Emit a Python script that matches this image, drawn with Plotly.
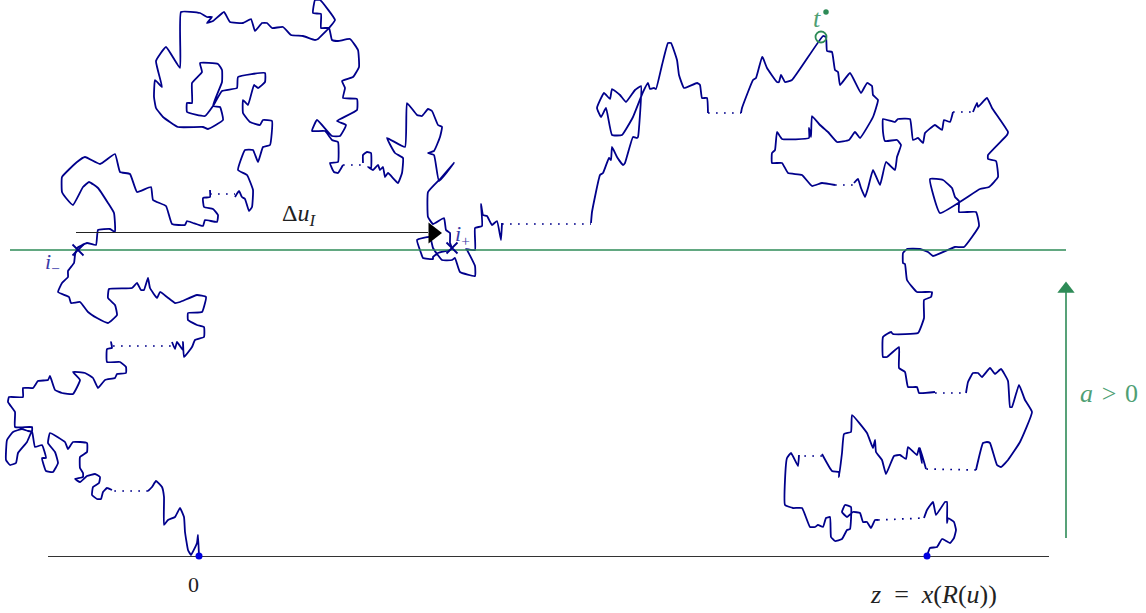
import plotly.graph_objects as go

# Solid stretches of the curve, in order (x, y)
stretch_1 = [(199,556),(198,535),(197,543),(191,555),(188,550),(185,532),(184,517),(180,508),(175,517),(168,520),(164,525),(164,497),(162,487),(156,481),(152,487),(148,491)]
stretch_2 = [(112,490),(107,488),(103,492),(101,499),(97,499),(92,495),(93,487),(99,483),(100,477),(95,474),(87,476),(80,482),(75,479),(83,477),(83,473),(80,468),(80,457),(87,452),(87,443),(73,442),(68,449),(65,442),(50,433),(48,443),(55,452),(58,463),(53,472),(46,471),(42,458),(46,458),(42,445),(35,447),(32,431),(27,442),(18,453),(16,463),(10,465),(6,460),(7,440),(13,432),(22,429),(28,431),(32,431),(32,427),(15,427),(15,412),(8,402),(9,397),(23,397),(23,388),(33,388),(38,381),(48,380),(50,376),(55,390),(62,393),(73,394),(80,380),(73,372),(85,373),(93,378),(98,388),(105,380),(115,378),(117,374),(126,373),(126,367),(120,362),(107,362),(107,349),(112,348),(111,342),(112,346)]
stretch_3 = [(172,342),(175,349),(177,342),(183,350),(183,342),(184,357),(192,347),(195,340),(204,337),(204,327),(197,325),(188,320),(188,313),(202,312),(206,297),(197,295),(180,302),(175,303),(167,297),(160,292),(157,298),(150,288),(148,278),(144,290),(141,290),(137,283),(132,288),(109,289),(108,298),(115,305),(117,315),(108,323),(97,318),(88,312),(80,302),(71,303),(69,297),(58,292),(62,283),(68,277),(68,271),(74,263),(75,255),(77,248),(87,243),(96,245),(98,230),(110,229),(115,232),(114,213),(108,203),(98,188),(89,182),(83,187),(73,205),(66,198),(62,192),(62,177),(77,162),(85,157),(100,164),(115,154),(120,172),(130,174),(137,192),(151,187),(153,200),(166,206),(172,224),(185,225),(187,221),(193,223),(203,226),(205,220),(217,222),(218,215),(213,209),(204,207),(203,198),(210,197),(210,190)]
stretch_4 = [(235,197),(239,191),(242,197),(245,199),(249,211),(252,207),(253,190),(247,175),(238,170),(245,150),(253,150),(258,162),(263,147),(270,145),(272,121),(263,120),(260,125),(250,122),(243,113),(243,100),(248,105),(254,85),(258,88),(265,82),(265,73),(238,77),(237,88),(222,91),(213,106),(205,116),(187,112),(187,103),(192,103),(192,83),(202,72),(200,63),(218,64),(222,70),(222,82),(213,106),(220,107),(223,120),(208,129),(203,127),(178,127),(163,117),(156,108),(154,97),(155,80),(162,87),(156,61),(166,47),(180,68),(181,12),(200,13),(207,17),(212,17),(207,23),(213,21),(224,12),(230,22),(243,23),(251,19),(255,31),(262,23),(267,23),(272,28),(283,27),(291,35),(303,36),(315,40),(318,39),(329,28),(335,20),(320,0),(315,0),(313,13),(321,14),(321,28),(329,28),(332,40),(338,41),(350,39),(358,50),(359,67),(353,77),(342,81),(345,88),(343,98),(357,99),(357,110),(337,121),(346,125),(340,136),(332,136),(317,120),(312,131),(325,131),(332,140),(338,142),(338,162),(330,163),(334,172),(338,173),(343,165)]
stretch_5 = [(363,163),(363,155),(367,152),(371,153),(371,168),(368,167),(373,170),(378,165),(380,170),(383,167),(385,177),(388,173),(398,183),(402,173),(403,158),(395,153),(387,138),(405,147),(407,103),(417,115),(422,116),(428,109),(432,111),(438,125),(442,127),(440,137),(434,151),(428,153),(434,155),(439,181),(454,163),(441,178),(428,192),(428,217),(433,224),(444,218),(446,230),(450,233),(450,243),(452,248),(450,250),(438,253),(433,257),(433,259),(423,258),(421,253),(417,240),(430,237),(433,248),(442,260),(452,260),(455,258),(460,272),(475,276),(475,266),(467,250),(466,249),(475,250),(475,228),(482,226),(481,204),(483,215),(487,216),(492,225),(497,221),(501,240),(502,223)]
stretch_6 = [(591,223),(592,212),(600,175),(603,173),(609,158),(611,160),(612,147),(617,157),(623,165),(625,163),(633,137),(637,138),(638,137),(641,86),(635,90),(626,102),(620,95),(612,89),(610,99),(604,93),(597,108),(601,117),(606,108),(612,135),(622,135),(633,117),(643,92),(648,83),(650,89),(654,88),(656,89),(662,65),(668,43),(671,43),(677,60),(679,75),(684,88),(697,83),(700,85),(702,98),(707,98),(708,113)]
stretch_7 = [(741,113),(742,108),(753,80),(756,78),(762,57),(763,58),(767,68),(777,82),(779,82),(781,75),(785,82),(792,80),(823,36),(826,37),(827,51),(832,52),(835,70),(838,72),(840,85),(850,73),(861,93),(867,83),(872,86),(873,95),(878,100),(873,117),(860,138),(855,132),(849,140),(837,142),(828,132),(820,125),(812,116),(811,137),(809,128),(809,138),(782,139),(777,132),(775,150),(772,153),(772,163),(782,163),(788,173),(802,175),(812,186),(822,183),(835,185)]
stretch_8 = [(854,183),(858,179),(861,188),(865,197),(868,188),(873,170),(880,185),(886,162),(895,170),(897,157),(901,145),(897,140),(885,141),(883,132),(883,119),(895,122),(898,119),(910,119),(913,140),(918,138),(923,143),(925,133),(935,125),(942,130),(944,120),(950,122),(953,112)]
stretch_9 = [(973,112),(977,103),(978,107),(987,98),(992,108),(1008,132),(1007,135),(988,155),(988,159),(996,161),(998,177),(989,187),(980,189),(940,213),(930,179),(943,180),(952,188),(955,197),(959,201),(959,212),(976,212),(979,226),(964,247),(955,247),(933,256),(928,252),(920,249),(907,249),(903,253),(903,263),(905,264),(907,280),(917,292),(932,292),(931,297),(924,300),(924,318),(918,333),(893,334),(891,332),(883,337),(883,357),(887,357),(899,347),(899,368),(905,372),(908,387),(917,387),(919,393),(935,392)]
stretch_10 = [(966,393),(968,382),(973,373),(978,373),(982,377),(990,368),(995,374),(1001,369),(1008,381),(1010,407),(1012,407),(1019,385),(1025,400),(1032,412),(1020,442),(1008,460),(1001,467),(997,465),(990,443),(987,442),(983,443),(976,470)]
stretch_11 = [(926,469),(920,448),(922,463),(919,448),(917,455),(908,447),(906,459),(900,455),(894,456),(886,474),(882,460),(876,452),(875,440),(873,448),(867,433),(852,415),(851,432),(844,434),(842,453),(839,477),(839,472),(832,471),(822,454)]
stretch_12 = [(799,455),(798,466),(791,453),(787,458),(785,480),(785,505),(793,508),(802,508),(810,527),(815,527),(818,525),(823,527),(826,518),(830,517),(831,537),(835,541),(842,539),(847,530),(850,529),(851,507),(845,505),(842,512),(847,517),(853,512),(860,513),(863,522),(867,522),(871,528),(875,520),(878,520)]
stretch_13 = [(924,518),(927,510),(933,502),(936,515),(945,502),(947,502),(947,523),(948,518),(954,522),(956,530),(954,538),(950,543),(942,539),(937,547),(930,548),(927,556)]
stretches = [stretch_1, stretch_2, stretch_3, stretch_4, stretch_5, stretch_6, stretch_7,
             stretch_8, stretch_9, stretch_10, stretch_11, stretch_12, stretch_13]

# Dotted gaps joining the stretches
gaps = [[(148,491),(112,491)],[(113,346),(172,346)],[(210,194),(235,194)],[(343,165),(363,165)],
        [(502,224),(591,224)],[(708,113),(741,113)],[(835,185),(854,185)],[(953,112),(973,112)],
        [(935,393),(966,393)],[(976,470),(926,469)],[(822,456),(799,456)],[(878,520),(924,518)]]

NAVY = "#00008b"
GREEN = "#2e8b57"
BLUE = "#0000e0"
SERIF = "Liberation Serif, DejaVu Serif, serif"

fig = go.Figure()
for g in gaps:
    fig.add_trace(go.Scatter(x=[p[0] for p in g], y=[p[1] for p in g], mode="lines",
                             line=dict(color=NAVY, width=1.7, dash="1.7px,6.3px"), hoverinfo="skip"))
for s in stretches:
    fig.add_trace(go.Scatter(x=[p[0] for p in s], y=[p[1] for p in s], mode="lines",
                             line=dict(color=NAVY, width=1.8, shape="spline", smoothing=0.35), hoverinfo="skip"))

# baseline and level line
fig.add_trace(go.Scatter(x=[48,1049], y=[556.5,556.5], mode="lines", line=dict(color="#333333", width=1)))
fig.add_trace(go.Scatter(x=[10,1066], y=[250,250], mode="lines", line=dict(color=GREEN, width=1.4)))
# end points and crossings
fig.add_trace(go.Scatter(x=[199,927], y=[556,556], mode="markers", marker=dict(color=BLUE, size=7)))
fig.add_trace(go.Scatter(x=[78,452], y=[250,248], mode="markers",
                         marker=dict(symbol="x-thin", size=11, line=dict(color=NAVY, width=1.8))))
fig.add_trace(go.Scatter(x=[821], y=[37], mode="markers",
                         marker=dict(symbol="circle-open", size=11, color=GREEN, line=dict(color=GREEN, width=1.8))))
fig.add_trace(go.Scatter(x=[826], y=[12], mode="markers", marker=dict(color=GREEN, size=5.5)))
# arrow shafts and heads
fig.add_trace(go.Scatter(x=[76,428], y=[232.5,232.5], mode="lines", line=dict(color="#222222", width=1)))
fig.add_trace(go.Scatter(x=[433], y=[233], mode="markers",
                         marker=dict(symbol="triangle-right", size=18, color="black")))
fig.add_trace(go.Scatter(x=[1066,1066], y=[538,292], mode="lines", line=dict(color=GREEN, width=1.6)))
fig.add_trace(go.Scatter(x=[1066], y=[289], mode="markers",
                         marker=dict(symbol="triangle-up", size=15, color=GREEN)))

def label(x, y, text, color="#222222", size=19):
    fig.add_annotation(x=x, y=y, text=text, showarrow=False, xanchor="center", yanchor="middle",
                       font=dict(family=SERIF, size=size, color=color))

label(299, 215, "Δ<i>u</i><sub><i>I</i></sub>", size=24)
label(193, 584, "0", size=22)
label(933, 594, "<i>z</i>\u2002=\u2002<i>x</i>(<i>R</i>(<i>u</i>))", size=26)
label(1109, 393, "<i>a</i>\u2004&gt;\u20040", color="#4f9f74", size=26)
label(817, 18, "<i>t</i>", color="#4f9f74", size=26)
label(52, 263, "<i>i</i><sub>−</sub>", color="#3a3aa8", size=22)
label(462, 235, "<i>i</i><sub>+</sub>", color="#3a3aa8", size=22)

fig.update_layout(
    width=1146, height=613, margin=dict(l=0, r=0, t=0, b=0), showlegend=False,
    paper_bgcolor="white", plot_bgcolor="white",
    xaxis=dict(range=[0,1146], visible=False, fixedrange=True),
    yaxis=dict(range=[613,0], visible=False, fixedrange=True),
)
fig.write_html("out.html", config={"displayModeBar": False},
               post_script="document.body.style.margin='0';document.documentElement.style.overflow='hidden';")
